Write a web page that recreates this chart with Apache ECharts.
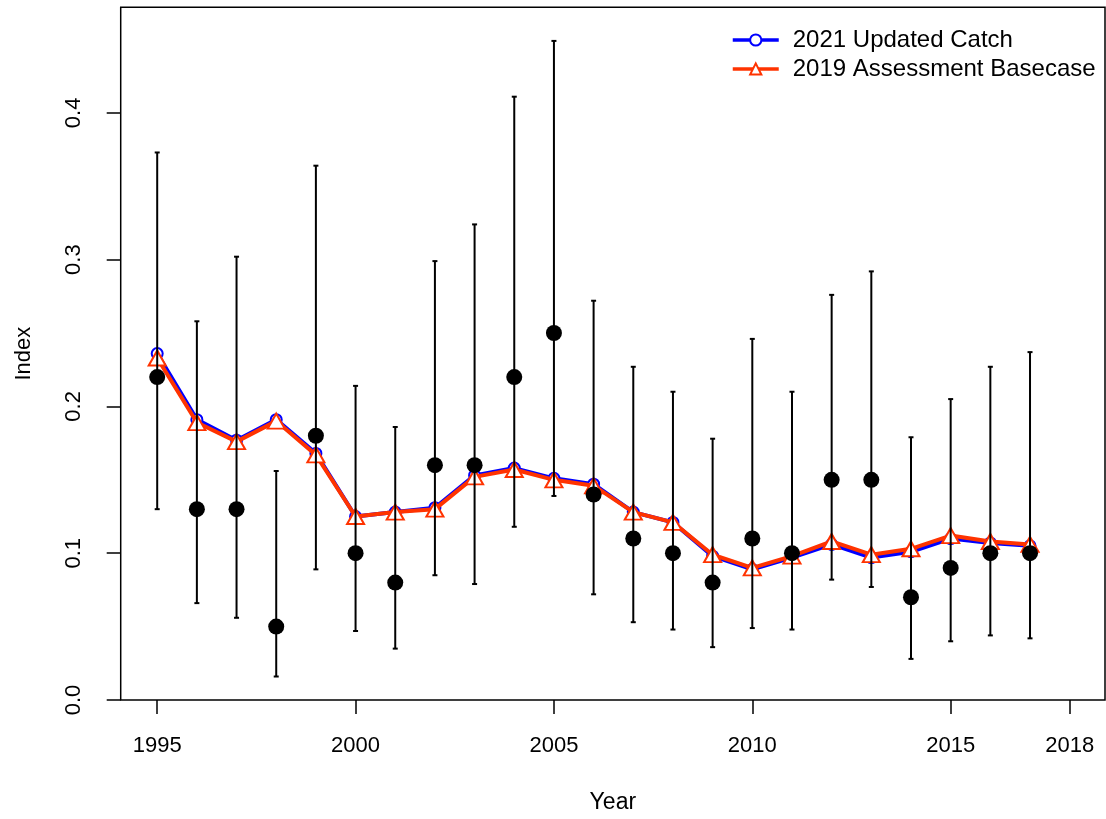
<!DOCTYPE html>
<html>
<head>
<meta charset="utf-8">
<script src="https://cdn.jsdelivr.net/npm/echarts@6/dist/echarts.min.js"></script>
<style>
  html, body { margin: 0; padding: 0; background: #fff; }
  #chart { width: 1106px; height: 819px; }
</style>
</head>
<body>
<div id="chart"></div>
<script>
// Survey years
const years = [1995, 1996, 1997, 1998, 1999, 2000, 2001, 2002, 2003, 2004, 2005, 2006,
               2007, 2008, 2009, 2010, 2011, 2012, 2013, 2014, 2015, 2016, 2017];

// Observed index with interval bounds
const observed = [0.22, 0.13, 0.13, 0.05, 0.18, 0.10, 0.08, 0.16, 0.16, 0.22, 0.25, 0.14,
                  0.11, 0.10, 0.08, 0.11, 0.10, 0.15, 0.15, 0.07, 0.09, 0.10, 0.10];
const lower = [0.130, 0.066, 0.056, 0.016, 0.089, 0.047, 0.035, 0.085, 0.079, 0.118, 0.139, 0.072,
               0.053, 0.048, 0.036, 0.049, 0.048, 0.082, 0.077, 0.028, 0.040, 0.044, 0.042];
const upper = [0.373, 0.258, 0.302, 0.156, 0.364, 0.214, 0.186, 0.299, 0.324, 0.411, 0.449, 0.272,
               0.227, 0.210, 0.178, 0.246, 0.210, 0.276, 0.292, 0.179, 0.205, 0.227, 0.237];

// Model fits
const updatedCatch = [0.236, 0.191, 0.177, 0.191, 0.168, 0.125, 0.128, 0.131, 0.153, 0.158, 0.151, 0.147,
                      0.128, 0.121, 0.098, 0.089, 0.097, 0.106, 0.097, 0.101, 0.110, 0.107, 0.105];
const basecase2019 = [0.233, 0.189, 0.176, 0.190, 0.167, 0.125, 0.128, 0.130, 0.152, 0.157, 0.150, 0.146,
                      0.128, 0.121, 0.099, 0.090, 0.098, 0.108, 0.099, 0.103, 0.112, 0.108, 0.106];

// Axis ticks
const xTicks = [1995, 2000, 2005, 2010, 2015, 2018];
const yTicks = [0, 0.1, 0.2, 0.3, 0.4];

const FONT = 'Liberation Sans, Arial, sans-serif';

const pairs = (ys) => years.map((y, i) => [y, ys[i]]);
const barData = years.map((y, i) => [y, lower[i], upper[i]]);

const chart = echarts.init(document.getElementById('chart'), null, { renderer: 'canvas' });

chart.setOption({
  backgroundColor: '#ffffff',
  animation: false,
  grid: {
    left: 120.7, right: 1, top: 7.3, bottom: 116.3,
    show: true, borderColor: '#000', borderWidth: 1.5, backgroundColor: 'transparent'
  },
  legend: {
    orient: 'vertical',
    left: 726, top: 23,
    itemWidth: 46, itemHeight: 14, itemGap: 5,
    lineStyle: { width: 3.5 },
    itemStyle: { borderWidth: 3 },
    textStyle: { fontFamily: FONT, fontSize: 24, color: '#000', padding: [0, 0, 0, 9] },
    data: ['2021 Updated Catch', '2019 Assessment Basecase']
  },
  xAxis: {
    type: 'value',
    min: 1994.08, max: 2018.89,
    name: 'Year', nameLocation: 'middle', nameGap: 91,
    nameTextStyle: { fontFamily: FONT, fontSize: 23, color: '#000' },
    axisLine: { show: false },
    splitLine: { show: false },
    axisTick: { show: true, length: 14, lineStyle: { color: '#000', width: 1.5 }, customValues: xTicks },
    axisLabel: {
      fontFamily: FONT, fontSize: 22, color: '#000', margin: 35,
      customValues: xTicks, formatter: (v) => String(v)
    }
  },
  yAxis: {
    type: 'value',
    min: 0, max: 0.4719,
    name: 'Index', nameLocation: 'middle', nameGap: 86,
    nameTextStyle: { fontFamily: FONT, fontSize: 22, color: '#000' },
    axisLine: { show: false },
    splitLine: { show: false },
    axisTick: { show: true, length: 14, lineStyle: { color: '#000', width: 1.5 }, customValues: yTicks },
    axisLabel: {
      fontFamily: FONT, fontSize: 22, color: '#000', margin: 36, rotate: 90,
      customValues: yTicks, formatter: (v) => v.toFixed(1)
    }
  },
  series: [
    {
      name: '2021 Updated Catch',
      type: 'line',
      data: pairs(updatedCatch),
      symbol: 'emptyCircle', symbolSize: 11,
      lineStyle: { color: '#0000ff', width: 4 },
      itemStyle: { color: '#0000ff', borderColor: '#0000ff', borderWidth: 3 },
      z: 2
    },
    {
      name: '2019 Assessment Basecase',
      type: 'line',
      data: pairs(basecase2019),
      symbol: 'emptyTriangle', symbolSize: [17, 15],
      lineStyle: { color: '#ff3300', width: 4 },
      itemStyle: { color: '#ff3300', borderColor: '#ff3300', borderWidth: 3.2 },
      z: 3
    },
    {
      name: 'interval',
      type: 'custom',
      data: barData,
      z: 4,
      renderItem: (params, api) => {
        const x = api.value(0);
        const lo = api.coord([x, api.value(1)]);
        const hi = api.coord([x, api.value(2)]);
        const cap = 2.5;
        const style = { stroke: '#000', lineWidth: 2 };
        return {
          type: 'group',
          children: [
            { type: 'line', shape: { x1: lo[0], y1: lo[1], x2: hi[0], y2: hi[1] }, style },
            { type: 'line', shape: { x1: lo[0] - cap, y1: lo[1], x2: lo[0] + cap, y2: lo[1] }, style },
            { type: 'line', shape: { x1: hi[0] - cap, y1: hi[1], x2: hi[0] + cap, y2: hi[1] }, style }
          ]
        };
      }
    },
    {
      name: 'observed',
      type: 'scatter',
      data: pairs(observed),
      symbol: 'circle', symbolSize: 16,
      itemStyle: { color: '#000', opacity: 1 },
      z: 5
    }
  ]
});
</script>
</body>
</html>
